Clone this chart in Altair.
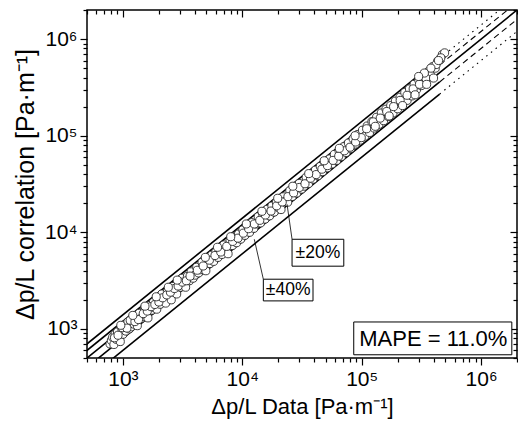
import altair as alt
import pandas as pd

# ---- measured vs. correlated pressure gradient (Pa/m) ----
x_data = [
    780, 800, 820, 840, 860, 880, 900, 930, 950, 980, 1000, 1030, 1060, 1100, 1130, 1170,
    1200, 1240, 1280, 1320, 1370, 1420, 1470, 1520, 1570, 1620, 1680, 1740, 1800, 1860,
    1920, 1980, 2050, 2120, 2200, 2280, 2360, 2450, 2540, 2630, 2720, 2820, 2920, 3020,
    3130, 3240, 3350, 3470, 3600, 3730, 3870, 4000, 4150, 4300, 4450, 4600, 4780, 4950,
    5150, 5350, 5550, 5750, 6000, 6250, 6500, 6750, 7000, 7300, 7600, 7900, 8250, 8600,
    8950, 9300, 9700, 10100, 10500, 11000, 11500, 12000, 12500, 13000, 13600, 14200,
    14800, 15500, 16200, 16900, 17700, 18500, 19300, 20200, 21100, 22000, 23000, 24000,
    25000, 26200, 27400, 28600, 30000, 31400, 32800, 34300, 35900, 37500, 39200, 41000,
    43000, 45000, 47000, 49200, 51500, 53900, 56400, 59000, 61700, 64600, 67600, 70700,
    74000, 77400, 81000, 84800, 88700, 92800, 97100, 101600, 106300, 111200, 116400,
    121800, 127400, 133300, 139500, 146000, 152700, 159800, 167200, 175000, 183000,
    191500, 200400, 209700, 219400, 229500, 240200, 251300, 263000, 275100, 287900,
    301200, 315200, 329800, 345000, 361000, 377800, 395300, 413600, 432800, 452800,
    473800, 495000,
    850, 910, 990, 1080, 1150, 1260, 1350, 1480, 1600, 1720, 1850, 2000, 2150, 2330,
    2500, 2700, 2900, 3150, 3400, 3650, 960, 1210, 1530, 1900, 2400, 2850,
    4200, 4700, 5300, 5900, 6600, 7400, 8300, 9200, 10200, 11300, 12600, 14000, 15600,
    17400, 19400, 21600, 24100, 26900, 30000, 33500, 37300, 41600, 46400, 51700, 57600,
    64200, 71600, 79800, 89000, 99200,
    4900, 6200, 8000, 10800, 14600, 19800, 26500, 36000, 48500, 65000, 88000,
    110000, 125000, 143000, 162000, 185000, 210000, 240000, 270000, 305000, 345000,
    130000, 170000, 220000, 280000, 350000, 400000,
    420000, 460000, 440000, 380000, 335000, 300000,
]
y_data = [
    700, 760, 820, 690, 880, 780, 930, 820, 740, 1000, 880, 1100, 950, 1180, 1000, 1050,
    1300, 1120, 1230, 1080, 1450, 1280, 1350, 1650, 1400, 1300, 1750, 1560, 1880, 1650,
    1600, 2050, 1800, 2300, 1950, 1850, 2450, 2200, 2000, 2750, 2450, 2300, 3000, 2700,
    3350, 2900, 2700, 3500, 3150, 3900, 3350, 3600, 4350, 3800, 4100, 4900, 4250, 4000,
    5300, 4750, 5800, 5000, 6300, 5500, 6700, 5900, 7400, 6400, 6000, 8200, 7300, 9100,
    7800, 9600, 8500, 10600, 9300, 11800, 10000, 12600, 11000, 12200, 14500, 12500,
    15600, 13700, 17300, 14800, 18700, 16200, 20500, 18000, 17200, 23300, 21000, 20500,
    27000, 23500, 29500, 25500, 32000, 28000, 30000, 37000, 32000, 40000, 35500, 44000,
    38500, 48000, 42500, 52500, 46500, 57500, 51000, 64000, 55500, 70000, 61000, 77000,
    67000, 84000, 74000, 93000, 82000, 103000, 90000, 114000, 99000, 126000, 108000,
    140000, 120000, 155000, 131000, 172000, 143000, 188000, 158000, 205000, 172000,
    228000, 190000, 250000, 210000, 280000, 232000, 305000, 258000, 340000, 300000,
    375000, 330000, 410000, 365000, 460000, 420000, 520000, 500000, 590000, 610000,
    690000, 720000,
    810, 860, 1030, 1020, 1230, 1190, 1250, 1440, 1530, 1700, 1790, 1900, 2100, 2250,
    2400, 2620, 2780, 3050, 3150, 3520, 1090, 1380, 1720, 2150, 2700, 3200,
    4050, 4480, 5150, 5750, 6250, 7150, 8050, 8700, 9800, 10900, 12200, 13300, 15100,
    16600, 18800, 20600, 23400, 25600, 29100, 31800, 36300, 39600, 45000, 49000, 55500,
    61500, 69800, 76000, 86000, 95500,
    5500, 7000, 9000, 12200, 16500, 22500, 30000, 40500, 55000, 74000, 100000,
    118000, 139000, 152000, 178000, 200000, 232000, 262000, 305000, 340000, 395000,
    125000, 160000, 205000, 265000, 340000, 395000,
    545000, 640000, 600000, 500000, 445000, 410000,
]

# ---- reference lines y = f * x ----
band_factors = [1.4, 1.2, 1.0, 0.8, 0.6]
band_tails = ["dotted", "dashed", "solid", "dashed", "dotted"]
x_line_lo, x_line_solid_end, x_line_hi = 300, 450000, 3000000

# ---- axes ----
domain_lo, domain_hi = 500, 2000000
major_values = [1000, 10000, 100000, 1000000]
major_labels = ["10³", "10⁴", "10⁵", "10⁶"]
x_title = "Δp/L Data [Pa·m⁻¹]"
y_title = "Δp/L correlation [Pa·m⁻¹]"

# ---- annotations ----
note_text = ["±20%", "±40%", "MAPE = 11.0%"]
note_x = [43000, 24200, 398000]
note_y = [6070, 2520, 789]
note_size = [17.5, 17.5, 22]
box_x1 = [26100, 15000, 85800]
box_x2 = [70800, 39100, 1810000]
box_y1 = [8470, 3270, 1180]
box_y2 = [4460, 1950, 540]
leader_x1 = [26100, 15000]
leader_y1 = [8470, 3270]
leader_x2 = [23700, 12600]
leader_y2 = [19500, 8470]

W, H = 430, 348
FONT = "Liberation Sans"

points = pd.DataFrame({"x": x_data, "y": y_data})

rows = []
for i, (f, tail) in enumerate(zip(band_factors, band_tails)):
    if tail == "solid":
        segs = [(x_line_lo, x_line_hi, "solid")]
    else:
        segs = [(x_line_lo, x_line_solid_end, "solid"), (x_line_solid_end, x_line_hi, tail)]
    for j, (a, b, style) in enumerate(segs):
        for xv in (a, b):
            rows.append({"seg": f"{i}-{j}", "x": xv, "y": xv * f, "style": style,
                         "ident": f == 1.0})
lines = pd.DataFrame(rows)

notes = pd.DataFrame({"text": note_text, "x": note_x, "y": note_y, "size": note_size})
boxes = pd.DataFrame({"x": box_x1, "x2": box_x2, "y": box_y1, "y2": box_y2})
leaders = pd.DataFrame({"x": leader_x1, "x2": leader_x2, "y": leader_y1, "y2": leader_y2})

tick_values = [m * 10 ** e for e in range(2, 7) for m in range(1, 10)
               if domain_lo <= m * 10 ** e <= domain_hi]
major_test = "indexof([" + ",".join(str(v) for v in major_values) + "], datum.value) >= 0"
label_expr = " : ".join(f"datum.value == {v} ? '{t}'" for v, t in zip(major_values, major_labels)) + " : ''"
tick_size = {"condition": {"test": major_test, "value": 7}, "value": 4}

scale = alt.Scale(type="log", domain=[domain_lo, domain_hi], nice=False)


def main_axis(title, title_size, title_pad):
    return alt.Axis(values=tick_values, labelExpr=label_expr, tickSize=tick_size,
                    tickWidth=1.2, tickColor="black", domain=False, grid=False,
                    labelFont=FONT, labelFontSize=21, labelColor="black", labelPadding=3,
                    labelOverlap=False, labelFlush=False, title=title, titleFont=FONT,
                    titleFontSize=title_size, titleFontWeight="normal", titleColor="black",
                    titlePadding=title_pad)


def mirror_axis(orient, offset):
    return alt.Axis(orient=orient, offset=offset, values=tick_values, labels=False,
                    tickSize=tick_size, tickWidth=1.2, tickColor="black", domain=False,
                    grid=False, title=None)


line_base = alt.Chart(lines)
solid = line_base.mark_line(color="black", strokeWidth=1.6, clip=True).encode(
    x=alt.X("x:Q", scale=scale, axis=main_axis(x_title, 22, 7)),
    y=alt.Y("y:Q", scale=scale, axis=main_axis(y_title, 25, 6)),
    detail="seg:N",
    strokeWidth=alt.condition("datum.ident", alt.value(2.2), alt.value(1.6)),
).transform_filter("datum.style == 'solid'")

dashed = line_base.mark_line(color="black", strokeWidth=1.1, strokeDash=[6, 4], clip=True).encode(
    x=alt.X("x:Q", scale=scale, axis=None),
    y=alt.Y("y:Q", scale=scale, axis=None),
    detail="seg:N",
).transform_filter("datum.style == 'dashed'")

dotted = line_base.mark_line(color="black", strokeWidth=1.1, strokeDash=[1.5, 4.5], clip=True).encode(
    x=alt.X("x:Q", scale=scale, axis=None),
    y=alt.Y("y:Q", scale=scale, axis=None),
    detail="seg:N",
).transform_filter("datum.style == 'dotted'")

scatter = alt.Chart(points).mark_point(
    shape="circle", filled=True, fill="white", stroke="#2a2a2a", strokeWidth=0.9,
    size=66, opacity=1, clip=True,
).encode(
    x=alt.X("x:Q", scale=scale, axis=mirror_axis("bottom", -H)),
    y=alt.Y("y:Q", scale=scale, axis=mirror_axis("left", -W)),
)

leader_layer = alt.Chart(leaders).mark_rule(color="black", strokeWidth=0.8).encode(
    x=alt.X("x:Q", scale=scale, axis=None), x2="x2:Q",
    y=alt.Y("y:Q", scale=scale, axis=None), y2="y2:Q",
)

box_layer = alt.Chart(boxes).mark_rect(fill="white", stroke="black", strokeWidth=1).encode(
    x=alt.X("x:Q", scale=scale, axis=None), x2="x2:Q",
    y=alt.Y("y:Q", scale=scale, axis=None), y2="y2:Q",
)

text_layer = alt.Chart(notes).mark_text(font=FONT, color="black", align="center",
                                        baseline="middle").encode(
    x=alt.X("x:Q", scale=scale, axis=None),
    y=alt.Y("y:Q", scale=scale, axis=None),
    text="text:N",
    size=alt.Size("size:Q", scale=None, legend=None),
)

chart = alt.layer(
    solid, dashed, dotted, scatter, leader_layer, box_layer, text_layer
).resolve_axis(x="independent", y="independent").properties(
    width=W, height=H,
    padding={"left": 87, "top": 10, "right": 1, "bottom": 75},
    autosize=alt.AutoSizeParams(type="none"),
    background="white",
).configure_view(stroke="black", strokeWidth=1.5)

chart.save("out.html", embed_options={"renderer": "svg", "actions": False})
